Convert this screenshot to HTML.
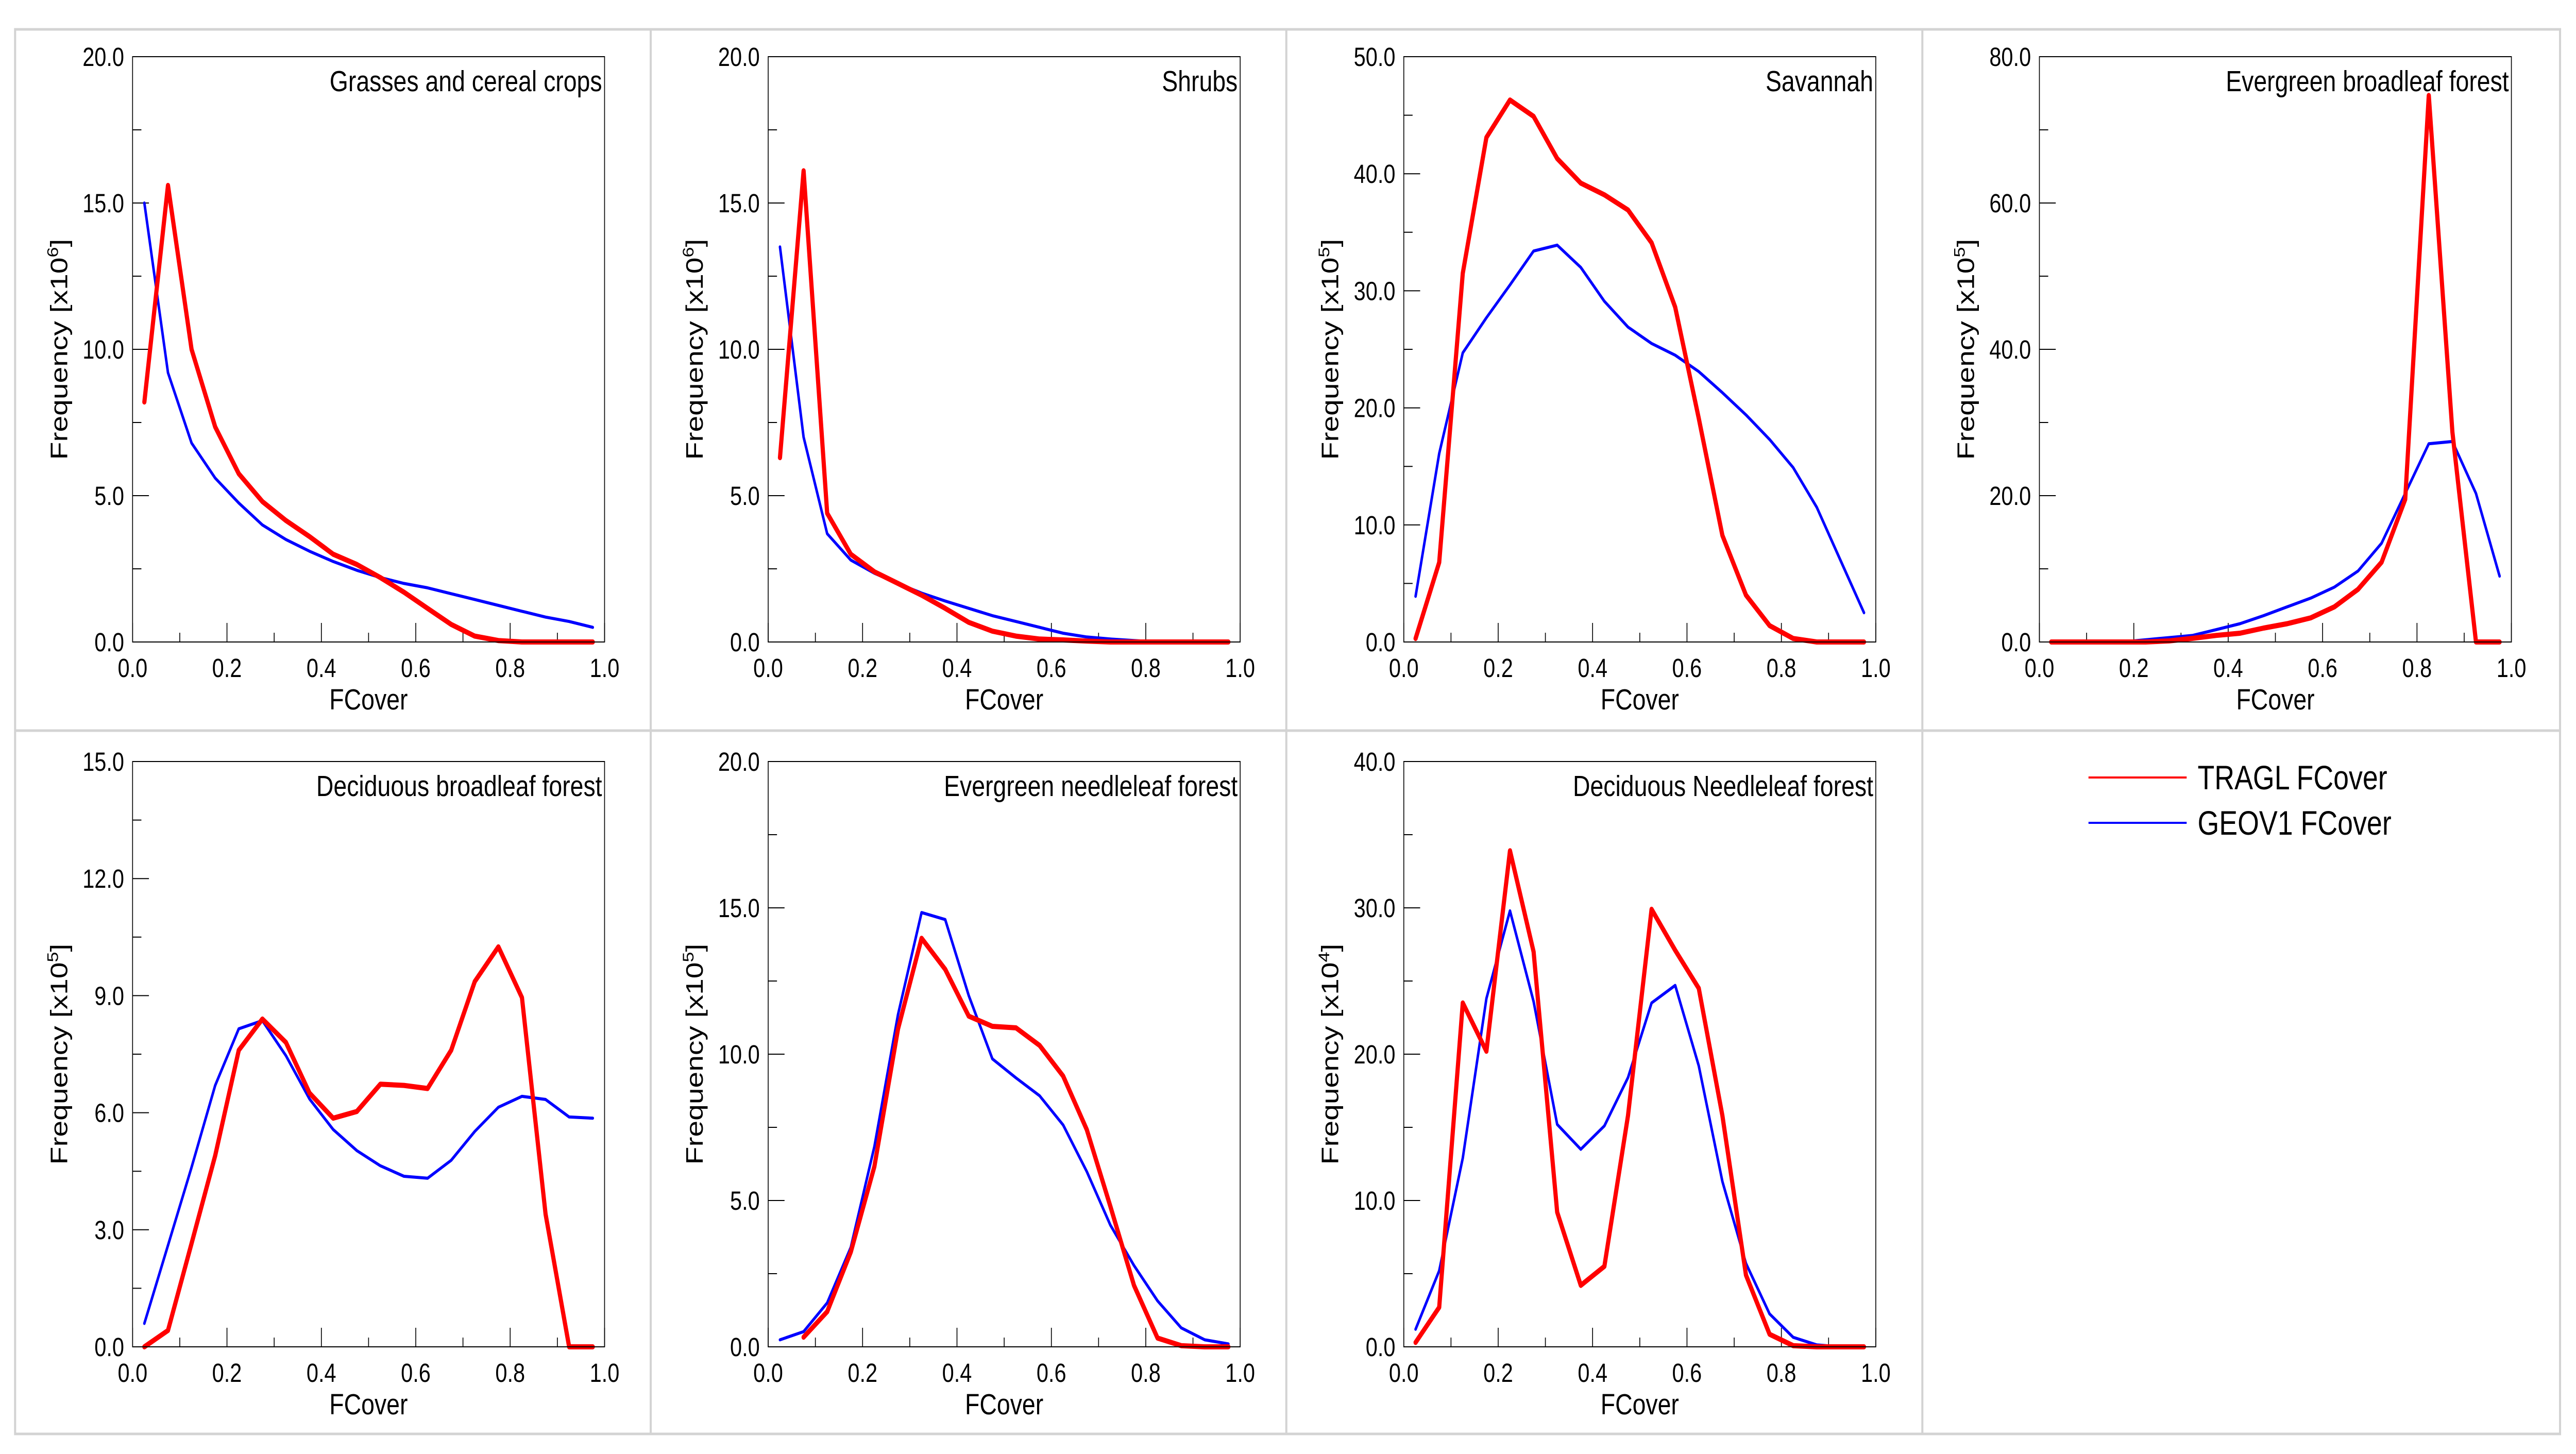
<!DOCTYPE html>
<html><head><meta charset="utf-8"><style>
html,body{margin:0;padding:0;background:#fff;overflow:hidden;width:100%;height:100%;}
svg{display:block;font-family:"Liberation Sans",Arial,sans-serif;width:100vw;height:100vh;}
</style></head><body>
<svg id="chart" viewBox="0 0 6140 2822" preserveAspectRatio="none" xmlns="http://www.w3.org/2000/svg">
<rect x="0" y="0" width="6140" height="2822" fill="#fff"/>
<g fill="none" stroke="#d3d3d3" stroke-width="5">
<rect x="36" y="57" width="6066" height="2726"/>
<line x1="36" y1="1418" x2="6102" y2="1418"/>
<line x1="1551" y1="57" x2="1551" y2="2783"/>
<line x1="3066" y1="57" x2="3066" y2="2783"/>
<line x1="4582" y1="57" x2="4582" y2="2783"/>
</g>
<g>
<line x1="4978" y1="1509" x2="5212" y2="1509" stroke="#ff0000" stroke-width="4"/>
<text x="5238" y="1532" font-size="66">TRAGL FCover</text>
<line x1="4978" y1="1597" x2="5212" y2="1597" stroke="#0000ff" stroke-width="4"/>
<text x="5238" y="1620" font-size="66">GEOV1 FCover</text>
</g>
</svg>
<script>
const binCenters = [0.025,0.075,0.125,0.175,0.225,0.275,0.325,0.375,0.425,0.475,0.525,0.575,0.625,0.675,0.725,0.775,0.825,0.875,0.925,0.975];
const xTicks = [0.0,0.2,0.4,0.6,0.8,1.0];
const panelTitles = ["Grasses and cereal crops","Shrubs","Savannah","Evergreen broadleaf forest","Deciduous broadleaf forest","Evergreen needleleaf forest","Deciduous Needleleaf forest"];
const panelExponents = ["6","6","5","5","5","5","4"];
const panelYMax = [20,20,50,80,15,20,40];
const panelYStep = [5,5,10,20,3,5,10];
const traglGrasses = [8.2,15.6,10.0,7.35,5.75,4.8,4.15,3.6,3.0,2.65,2.2,1.7,1.15,0.6,0.2,0.05,0,0,0,0];
const geovGrasses = [15.0,9.2,6.8,5.6,4.75,4.0,3.5,3.1,2.75,2.45,2.2,2.0,1.85,1.65,1.45,1.25,1.05,0.85,0.7,0.5];
const traglShrubs = [6.3,16.1,4.4,3.0,2.4,2.0,1.6,1.15,0.67,0.37,0.2,0.1,0.07,0.03,0,0,0,0,0,0];
const geovShrubs = [13.5,7.0,3.7,2.8,2.35,2.0,1.67,1.4,1.15,0.9,0.7,0.5,0.3,0.17,0.1,0.05,0,0,0,0];
const traglSavannah = [0.3,6.8,31.5,43.1,46.3,44.9,41.3,39.2,38.2,36.9,34.1,28.6,19.1,9.1,4.0,1.4,0.3,0,0,0];
const geovSavannah = [3.9,16.1,24.7,27.7,30.5,33.4,33.9,32.0,29.1,26.9,25.5,24.5,23.1,21.3,19.4,17.3,14.9,11.5,7.0,2.5];
const traglEBF = [0,0,0,0,0,0.15,0.5,0.9,1.2,1.9,2.5,3.3,4.8,7.2,10.9,19.5,74.7,28.7,0,0];
const geovEBF = [0,0,0,0,0.3,0.6,0.9,1.7,2.5,3.6,4.8,6.0,7.5,9.7,13.5,20.3,27.1,27.4,20.3,9.0];
const traglDBF = [0,0.42,2.65,4.9,7.6,8.4,7.8,6.5,5.86,6.03,6.73,6.70,6.62,7.6,9.36,10.25,8.95,3.4,0,0];
const geovDBF = [0.6,2.6,4.6,6.7,8.15,8.36,7.46,6.35,5.57,5.03,4.64,4.37,4.32,4.78,5.52,6.14,6.42,6.34,5.89,5.86];
const traglENF = [null,0.33,1.2,3.24,6.16,10.86,13.96,12.9,11.3,10.95,10.9,10.3,9.25,7.42,4.8,2.1,0.3,0.04,0,0];
const geovENF = [0.24,0.52,1.5,3.4,6.84,11.35,14.84,14.6,12.0,9.84,9.19,8.58,7.58,5.99,4.16,2.78,1.57,0.65,0.24,0.1];
const traglDNF = [0.3,2.7,23.5,20.2,33.9,27.0,9.2,4.2,5.5,15.8,29.9,27.1,24.5,15.8,4.9,0.86,0.08,0,0,0];
const geovDNF = [1.2,5.2,12.9,23.8,29.8,23.6,15.2,13.5,15.1,18.4,23.5,24.7,19.2,11.3,5.7,2.25,0.65,0.13,0,0];
const traglSeries = [traglGrasses,traglShrubs,traglSavannah,traglEBF,traglDBF,traglENF,traglDNF];
const geovSeries = [geovGrasses,geovShrubs,geovSavannah,geovEBF,geovDBF,geovENF,geovDNF];

const NS = "http://www.w3.org/2000/svg";
const svg = document.getElementById("chart");
function mk(tag, attrs, parent){
  const e = document.createElementNS(NS, tag);
  for (const k in attrs) e.setAttribute(k, attrs[k]);
  parent.appendChild(e);
  return e;
}
const PW = 1125, PH = 1136;
for (let p = 0; p < 7; p++) {
  const col = p % 4, row = Math.floor(p / 4);
  const L = 316 + col * 1515, T = row === 0 ? 110 : 1478, B = T + PH, R = L + PW;
  const yMax = panelYMax[p], step = panelYStep[p];
  const xS = v => L + v * PW;
  const yS = v => B - v / yMax * PH;
  const g = mk("g", {}, svg);
  
  
  const tg = mk("g", {stroke: "#000", "stroke-width": 2}, g);
  
  
  for (let v = 0; v <= yMax + 1e-9; v += step / 2) {
    const major = Math.abs(v / step - Math.round(v / step)) < 1e-6;
    mk("line", {x1: L, x2: L + (major ? 39 : 21), y1: yS(v), y2: yS(v)}, tg);
  }
  for (let i = 0; i <= 10; i++) {
    const v = i / 10, major = i % 2 === 0;
    mk("line", {x1: xS(v), x2: xS(v), y1: B, y2: B - (major ? 37 : 18)}, tg);
  }
  for (let v = 0; v <= yMax + 1e-9; v += step) {
    const t = mk("text", {x: L - 20, y: yS(v) + 18, "font-size": 51, "text-anchor": "end"}, g);
    
    
    t.textContent = v.toFixed(1);
  }
  xTicks.forEach(v => {
    const t = mk("text", {x: xS(v), y: B + 68, "font-size": 51, "text-anchor": "middle"}, g);
    
    
    t.textContent = v.toFixed(1);
  });
  const xt = mk("text", {x: L + PW / 2, y: B + 131, "font-size": 57, "text-anchor": "middle"}, g);
  
  
  xt.textContent = "FCover";
  const cy = (T + B) / 2;
  const yt = mk("text", {x: L - 156, y: cy, "font-size": 57, "text-anchor": "middle", transform: "rotate(-90 " + (L - 156) + " " + cy + ")"}, g);
  
  
  yt.appendChild(document.createTextNode("Frequency [x10"));
  const sup = mk("tspan", {"font-size": 36, dy: -22}, yt);
  sup.textContent = panelExponents[p];
  const cl = mk("tspan", {dy: 22}, yt);
  cl.textContent = "]";
  const ti = mk("text", {x: R - 6, y: T + 67, "font-size": 57, "text-anchor": "end"}, g);
  
  
  ti.textContent = panelTitles[p];
  function line(vals, color, w, name) {
    let d = "";
    vals.forEach((v, i) => { if (v === null) return; d += (d ? "L" : "M") + xS(binCenters[i]).toFixed(1) + "," + yS(v).toFixed(1); });
    const pth = mk("path", {d: d, fill: "none", stroke: color, "stroke-width": w, "stroke-linejoin": "round", "stroke-linecap": "round"}, g);
    
    
  }
  line(geovSeries[p], "#0000ff", 6, "geov1-fcover-line");
  line(traglSeries[p], "#ff0000", 10, "tragl-fcover-line");
  const box = mk("rect", {x: L, y: T, width: PW, height: PH, fill: "none", stroke: "#000", "stroke-width": 2}, g);
  
  
}
</script>
</body></html>
